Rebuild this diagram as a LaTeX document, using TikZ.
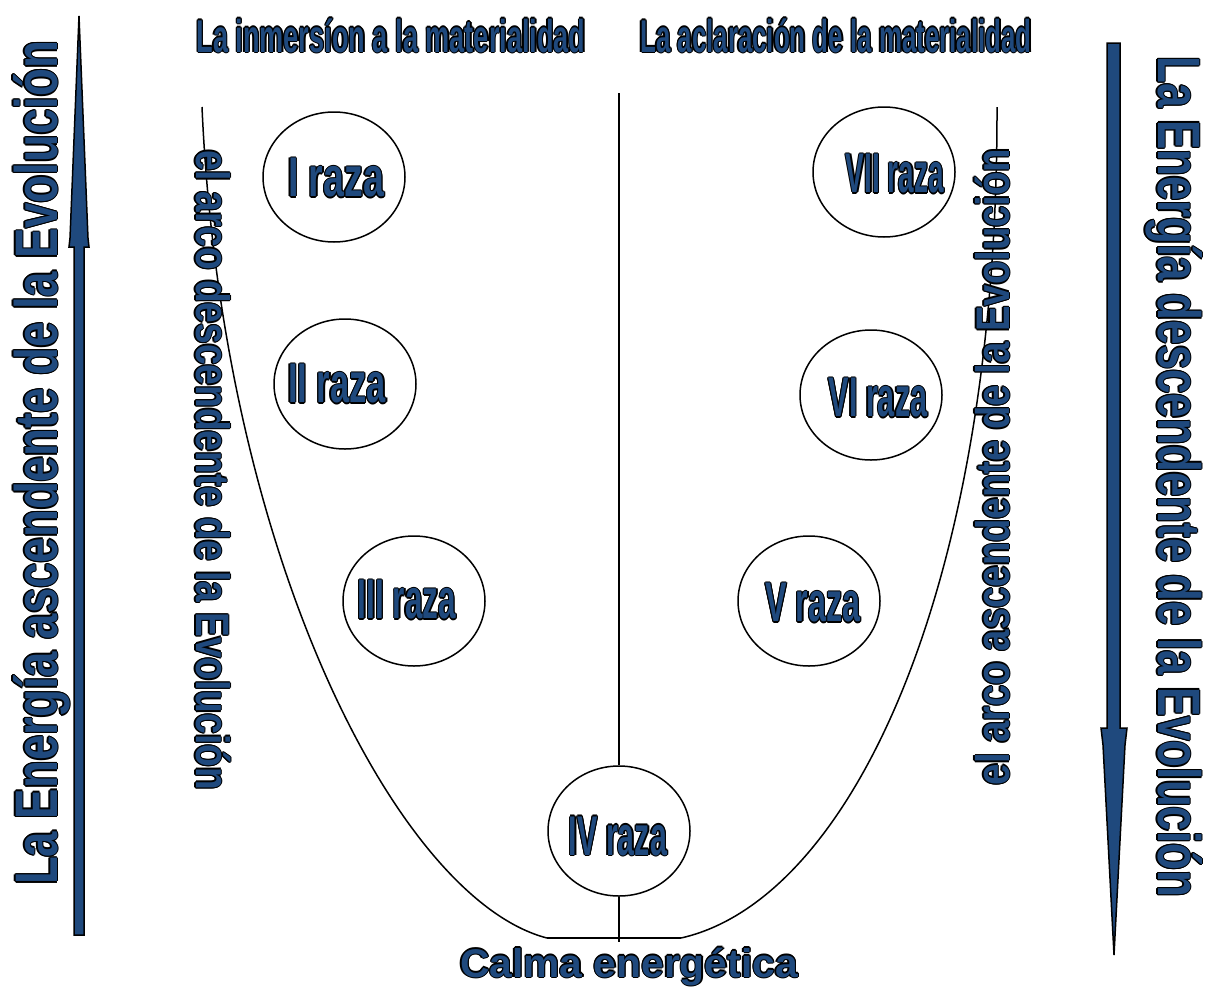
\documentclass[tikz,border=0pt]{standalone}
\usepackage{fontspec}
\setmainfont{Liberation Sans}
\usepackage{graphicx}
\usetikzlibrary{shapes.geometric}
\definecolor{wordnavy}{HTML}{1F497D}
\newlength\olw \setlength\olw{1.35pt}
\newcommand\shcopy[2]{\rlap{\kern#1\raise#2\copy0}}
\newcommand\OT[2]{%
  \setbox0=\hbox{\scalebox{#1}[1]{\color{black}#2}}%
  \setbox2=\hbox{\scalebox{#1}[1]{\color{wordnavy}#2}}%
  \shcopy{\olw}{0pt}\shcopy{-\olw}{0pt}\shcopy{0pt}{\olw}\shcopy{0pt}{-\olw}%
  \shcopy{.7\olw}{.7\olw}\shcopy{-.7\olw}{.7\olw}\shcopy{.7\olw}{-.7\olw}\shcopy{-.7\olw}{-.7\olw}%
  \box2}
\tikzset{
  line/.style={draw=black, line width=1.5pt},
  raza/.style={draw=black, line width=1.5pt, ellipse, inner sep=0pt, minimum width=142pt, minimum height=130pt},
  wa/.style={inner sep=0pt, outer sep=0pt},
  razatext/.style={wa, anchor=center, font=\fontsize{56}{56}\selectfont\bfseries},
  title/.style={wa, anchor=base, font=\fontsize{46}{46}\selectfont\bfseries},
  big/.style={wa, anchor=base, font=\fontsize{60}{60}\selectfont\bfseries},
  arcl/.style={wa, anchor=base, font=\fontsize{47}{47}\selectfont\bfseries},
  arrowbody/.style={fill=wordnavy, draw=black, line width=1.5pt, line join=miter}
}
\begin{document}
\begin{tikzpicture}[x=1pt,y=-1pt]
\useasboundingbox (0,0) rectangle (1207,988);
\fill[white] (0,0) rectangle (1207,988);

% arrows
\draw[arrowbody] (74,935) -- (84,935) -- (84,247) -- (89,247) -- (88,238) -- (79,16) -- (70,238) -- (69,247) -- (74,247) -- cycle;
\draw[arrowbody] (1107,43) -- (1120,43) -- (1120,728) -- (1127,728) -- (1125,745) -- (1114,955) -- (1103,745) -- (1101,728) -- (1107,728) -- cycle;

% ellipses
\node[raza] (r1) at (334,177) {};
\node[raza] (r2) at (345,384) {};
\node[raza] (r3) at (414,601) {};
\node[raza] (r4) at (619,831) {};
\node[raza] (r5) at (809,601) {};
\node[raza] (r6) at (871,395) {};
\node[raza] (r7) at (884,172) {};

% curves
\coordinate (lt) at (202,107);
\coordinate (lb) at (547,938);
\coordinate (rt) at (997,107);
\coordinate (rb) at (681,938);
\draw[line] (lt) .. controls (222,560) and (400,900) .. (lb);
\draw[line] (rt) .. controls (998,590) and (850,900) .. (rb);
\draw[line] (lb) -- (rb);
\coordinate (vt) at (619,93);
\coordinate (vb) at (619,942);
\draw[line] (vt) -- (r4.north);
\draw[line] (r4.south) -- (vb);

% titles
\node[title] (t1) at (391,52) {\OT{0.59}{La inmersíon a la materialidad}};
\node[title] (t2) at (836,52) {\OT{0.563}{La aclaración de la materialidad}};
\node[wa, anchor=base, font=\fontsize{40}{40}\selectfont\bfseries] (calma) at (629,977) {\OT{1.02}{Calma energética}};

% side labels
\node[big, rotate=90] (sl) at (57,463) {\OT{0.76}{La Energía ascendente de la Evolución}};
\node[big, rotate=-90] (sr) at (1158,477) {\OT{0.733}{La Energía descendente de la Evolución}};
\node[arcl, rotate=-90] (al) at (196,470) {\OT{0.79}{el arco descendente de la Evolución}};
\node[arcl, rotate=90] (ar) at (1009,467) {\OT{0.815}{el arco ascendente de la Evolución}};

% raza labels
\node[razatext] (l1) at (336,178) {\OT{0.67}{I raza}};
\node[razatext] (l2) at (337,384) {\OT{0.617}{II raza}};
\node[razatext] (l3) at (407,600) {\OT{0.563}{III raza}};
\node[razatext] (l4) at (618,836) {\OT{0.543}{IV raza}};
\node[razatext] (l5) at (813,603) {\OT{0.576}{V raza}};
\node[razatext] (l6) at (878,398) {\OT{0.548}{VI raza}};
\node[razatext] (l7) at (895,174) {\OT{0.50}{VII raza}};
\end{tikzpicture}
\end{document}
